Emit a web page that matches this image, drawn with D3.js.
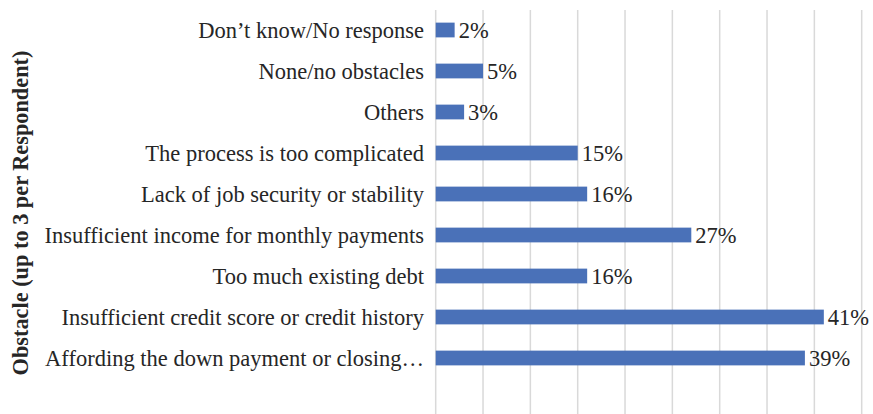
<!DOCTYPE html>
<html><head><meta charset="utf-8">
<script src="https://cdn.jsdelivr.net/npm/d3@7"></script>
<style>body{margin:0;background:#fff}</style>
</head><body>
<svg id="chart" width="873" height="414"></svg>
<script>
const categories = [
  "Don\u2019t know/No response",
  "None/no obstacles",
  "Others",
  "The process is too complicated",
  "Lack of job security or stability",
  "Insufficient income for monthly payments",
  "Too much existing debt",
  "Insufficient credit score or credit history",
  "Affording the down payment or closing\u2026"
];
const values = [2, 5, 3, 15, 16, 27, 16, 41, 39];
const gridTicks = [0, 5, 10, 15, 20, 25, 30, 35, 40, 45];
const axisTitle = "Obstacle (up to 3 per Respondent)";

const svg = d3.select("#chart");
const font = "'Liberation Serif', 'Times New Roman', serif";
const x = d3.scaleLinear().domain([0, 45]).range([435.7, 861.7]);
const y = d3.scaleBand().domain(categories).range([9.5, 378.5]).paddingInner(0.64).paddingOuter(0.32);

svg.append("g").selectAll("line").data(gridTicks).join("line")
  .attr("x1", d => x(d)).attr("x2", d => x(d))
  .attr("y1", 10).attr("y2", 414)
  .attr("stroke", "#d9d9d9").attr("stroke-width", 1.5);

svg.append("g").selectAll("rect").data(values).join("rect")
  .attr("x", x(0)).attr("y", (d, i) => y(categories[i]))
  .attr("width", d => x(d) - x(0)).attr("height", y.bandwidth())
  .attr("fill", "#4a71b8");

svg.append("g").selectAll("text").data(values).join("text")
  .attr("x", d => x(d) + 4).attr("y", (d, i) => y(categories[i]) + y.bandwidth() / 2)
  .attr("dy", "0.35em").attr("font-family", font).attr("font-size", 22.5)
  .attr("fill", "#262626").text(d => d + "%");

svg.append("g").selectAll("text").data(categories).join("text")
  .attr("x", 424).attr("y", d => y(d) + y.bandwidth() / 2)
  .attr("dy", "0.35em").attr("text-anchor", "end")
  .attr("font-family", font).attr("font-size", 22.5)
  .attr("fill", "#262626").text(d => d);

svg.append("text")
  .attr("transform", "translate(20,213) rotate(-90)")
  .attr("dy", "0.35em").attr("text-anchor", "middle")
  .attr("font-family", font).attr("font-size", 22.3).attr("font-weight", "bold")
  .attr("fill", "#262626").text(axisTitle);
</script>
</body></html>
